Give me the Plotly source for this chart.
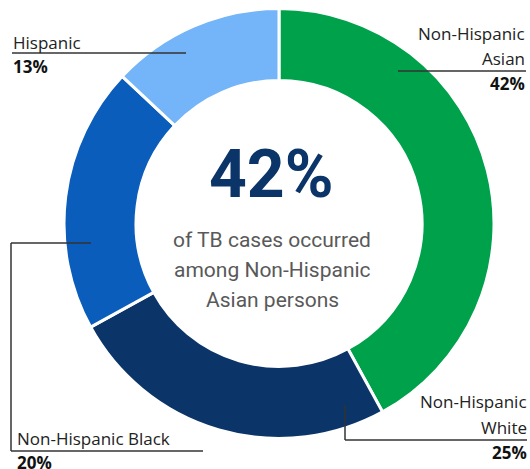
import plotly.graph_objects as go

W, H = 530, 469

groups = ["Non-Hispanic Asian", "Non-Hispanic White", "Non-Hispanic Black", "Hispanic"]
shares = [42, 25, 20, 13]
colors = ["#00A14B", "#0B3468", "#0A5DBA", "#73B5F8"]

headline = "42%"
subtitle_lines = ["of TB cases occurred", "among Non-Hispanic", "Asian persons"]

def px(x):
    return x / W

def py(y):
    return 1 - y / H

fig = go.Figure()
fig.add_trace(go.Pie(
    labels=groups, values=shares, hole=0.665, sort=False, direction="clockwise",
    rotation=0, textinfo="none", hoverinfo="label+percent",
    marker=dict(colors=colors, line=dict(color="white", width=3)),
    domain=dict(x=[px(64), px(494)], y=[py(439), py(8)]),
    showlegend=False,
))

ann = []
lab_font = dict(family="Open Sans", size=17, color="#222222")
bold_font = dict(family="Open Sans", size=17, color="#111111", weight="bold")

# Hispanic (top-left)
ann.append(dict(x=px(11), y=py(42), text="Hispanic", xanchor="left", yanchor="middle", font=lab_font))
ann.append(dict(x=px(11), y=py(66), text=f"<b>{shares[3]}%</b>", xanchor="left", yanchor="middle", font=bold_font))
# Non-Hispanic Asian (top-right)
ann.append(dict(x=px(527), y=py(33), text="Non-Hispanic", xanchor="right", yanchor="middle", font=lab_font))
ann.append(dict(x=px(527), y=py(58), text="Asian", xanchor="right", yanchor="middle", font=lab_font))
ann.append(dict(x=px(527), y=py(84), text=f"<b>{shares[0]}%</b>", xanchor="right", yanchor="middle", font=bold_font))
# Non-Hispanic Black (bottom-left)
ann.append(dict(x=px(15), y=py(438), text="Non-Hispanic Black", xanchor="left", yanchor="middle", font=lab_font))
ann.append(dict(x=px(15), y=py(462), text=f"<b>{shares[2]}%</b>", xanchor="left", yanchor="middle", font=bold_font))
# Non-Hispanic White (bottom-right)
ann.append(dict(x=px(529), y=py(401), text="Non-Hispanic", xanchor="right", yanchor="middle", font=lab_font))
ann.append(dict(x=px(529), y=py(427), text="White", xanchor="right", yanchor="middle", font=lab_font))
ann.append(dict(x=px(529), y=py(452), text=f"<b>{shares[1]}%</b>", xanchor="right", yanchor="middle", font=bold_font))

# Center text
ann.append(dict(x=px(271), y=py(174), text=f"<b>{headline}</b>", xanchor="center", yanchor="middle",
                font=dict(family="Roboto", size=66, color="#0B3468")))
for i, line in enumerate(subtitle_lines):
    ann.append(dict(x=px(272), y=py(240 + 30 * i), text=line, xanchor="center", yanchor="middle",
                    font=dict(family="Roboto", size=21, color="#595959")))

for a in ann:
    a.update(xref="paper", yref="paper", showarrow=False)

line_style = dict(color="#333333", width=1.5)
shapes = []
def seg(x0, y0, x1, y1):
    shapes.append(dict(type="line", xref="paper", yref="paper", x0=px(x0), y0=py(y0), x1=px(x1), y1=py(y1), line=line_style))

seg(12, 53, 186, 53)
seg(398, 71, 526, 71)
seg(91, 243, 11, 243)
seg(11, 243, 11, 451)
seg(11, 451, 203, 451)
seg(345, 405, 345, 440)
seg(345, 440, 527, 440)

fig.update_layout(
    width=W, height=H, margin=dict(l=0, r=0, t=0, b=0),
    paper_bgcolor="white", plot_bgcolor="white",
    annotations=ann, shapes=shapes,
)

fig.write_html(
    "out.html",
    config={"displayModeBar": False},
    post_script="document.body.style.margin='0';document.body.style.overflow='hidden';",
)
